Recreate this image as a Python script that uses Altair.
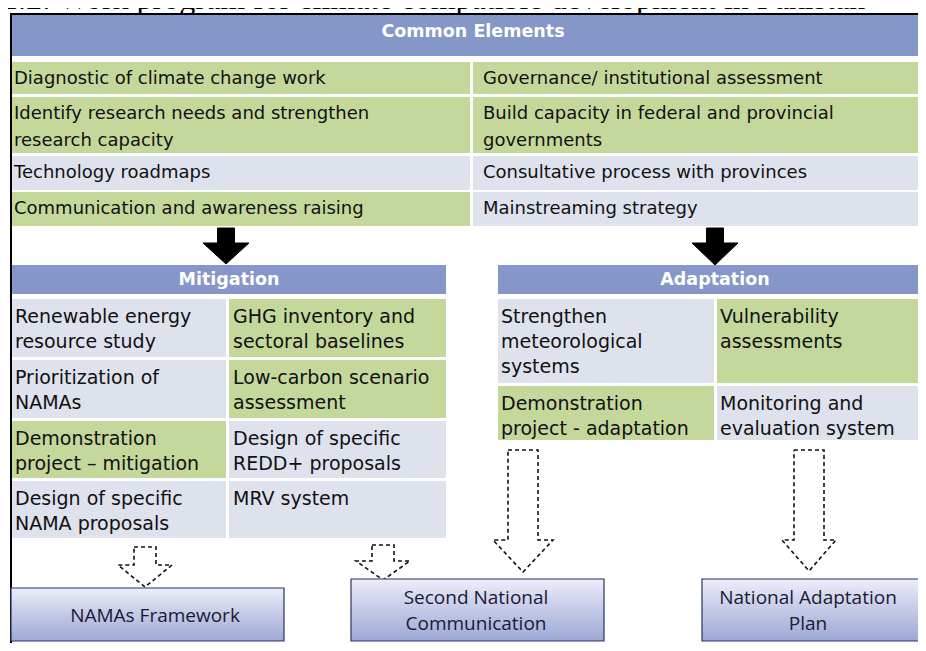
import altair as alt
import pandas as pd

# ---------------- content ----------------
title_text = "1.2: Work program for climate compatible development in Pakistan"

common_header = "Common Elements"
common_left = ["Diagnostic of climate change work",
               "Identify research needs and strengthen\nresearch capacity",
               "Technology roadmaps",
               "Communication and awareness raising"]
common_left_kind = ["green", "green", "grey", "green"]
common_right = ["Governance/ institutional assessment",
                "Build capacity in federal and provincial\ngovernments",
                "Consultative process with provinces",
                "Mainstreaming strategy"]
common_right_kind = ["green", "green", "grey", "grey"]

mit_header = "Mitigation"
mit_left = ["Renewable energy\nresource study", "Prioritization of\nNAMAs",
            "Demonstration\nproject \u2013 mitigation", "Design of specific\nNAMA proposals"]
mit_left_kind = ["grey", "grey", "green", "grey"]
mit_right = ["GHG inventory and\nsectoral baselines", "Low-carbon scenario\nassessment",
             "Design of specific\nREDD+ proposals", "MRV system"]
mit_right_kind = ["green", "green", "grey", "grey"]

ada_header = "Adaptation"
ada_left = ["Strengthen\nmeteorological\nsystems", "Demonstration\nproject - adaptation"]
ada_left_kind = ["grey", "green"]
ada_right = ["Vulnerability\nassessments", "Monitoring and\nevaluation system"]
ada_right_kind = ["green", "grey"]

outputs = ["NAMAs Framework", "Second National\nCommunication", "National Adaptation\nPlan"]

# ---------------- layout (pixel space of the picture) ----------------
W, H = 910, 635
X0, Y0 = 8, 8
xs = alt.Scale(domain=[X0, X0 + W], nice=False, zero=False)
ys = alt.Scale(domain=[Y0, Y0 + H], nice=False, zero=False, reverse=True)

COLORS = {"green": "#c5d89c", "grey": "#dde2ec", "head": "#8596c8"}

common_cols = [(11, 470, 14), (473, 930, 483)]
common_rows = [(62, 94), (97, 153), (156, 190), (192, 226)]
mit_cols = [(11, 226, 15), (229, 446, 233)]
mit_rows = [(299, 357), (360, 418), (421, 478), (481, 538)]
ada_cols = [(498, 714, 501), (717, 930, 720)]
ada_rows = [(299, 383), (386, 440)]

cells, lines_small, lines_big = [], [], []


def add_table(cols, rows, texts_l, kinds_l, texts_r, kinds_r, first, step, out):
    for ci, (texts, kinds) in enumerate([(texts_l, kinds_l), (texts_r, kinds_r)]):
        xa, xb, tx = cols[ci]
        for ri, (ya, yb) in enumerate(rows):
            cells.append(dict(x=xa, x2=xb, y=ya, y2=yb, fill=COLORS[kinds[ri]]))
            for li, ln in enumerate(texts[ri].split("\n")):
                out.append(dict(x=tx, y=ya + first + li * step, text=ln))


add_table(common_cols, common_rows, common_left, common_left_kind,
          common_right, common_right_kind, 17, 27, lines_small)
add_table(mit_cols, mit_rows, mit_left, mit_left_kind,
          mit_right, mit_right_kind, 18, 25, lines_big)
add_table(ada_cols, ada_rows, ada_left, ada_left_kind,
          ada_right, ada_right_kind, 18, 25, lines_big)

headers = pd.DataFrame([
    dict(x=12, x2=930, y=15, y2=56, tx=473, ty=32, text=common_header),
    dict(x=11, x2=446, y=265, y2=294, tx=229, ty=280, text=mit_header),
    dict(x=498, x2=930, y=265, y2=294, tx=715, ty=280, text=ada_header),
])
headers["fill"] = COLORS["head"]

box_geo = [(11, 284, 588, 641, 155), (351, 604, 579, 641, 476), (702, 930, 579, 641, 808)]
boxes, box_lines = [], []
for (xa, xb, ya, yb, cx), txt in zip(box_geo, outputs):
    boxes.append(dict(x=xa, x2=xb, y=ya, y2=yb))
    parts = txt.split("\n")
    mid = (ya + yb) / 2 + 1
    for li, ln in enumerate(parts):
        box_lines.append(dict(x=cx, y=mid + (li - (len(parts) - 1) / 2) * 26, text=ln))

# arrows: centre, top, head start, tip, shaft half width, head half width
black_arrows = [(226, 228, 243, 264, 8.5, 23), (715, 228, 243, 265, 8.5, 23)]
dashed_arrows = [(145, 547, 565, 587, 11, 27), (383, 545, 561, 580, 11, 27),
                 (523, 450, 540, 572, 15, 30), (809, 450, 540, 571, 15, 27)]


def arrow_rows(specs):
    rows = []
    for k, (cx, top, hy, tip, sw, hw) in enumerate(specs):
        pts = [(cx - sw, top), (cx + sw, top), (cx + sw, hy), (cx + hw, hy), (cx, tip),
               (cx - hw, hy), (cx - sw, hy), (cx - sw, top)]
        for i, (px, py) in enumerate(pts):
            rows.append(dict(a=k, o=i, x=px, y=py))
    return pd.DataFrame(rows)


border = pd.DataFrame([dict(x=10, x2=930, y=14, y2=14), dict(x=11, x2=11, y=14, y2=660)])

X = lambda f="x": alt.X(f + ":Q", scale=xs, axis=None)
Y = lambda f="y": alt.Y(f + ":Q", scale=ys, axis=None)

title = alt.Chart(pd.DataFrame([dict(x=2, y=9, text=title_text)])).mark_text(
    align="left", baseline="alphabetic", font="Liberation Serif", fontSize=32, color="#000"
).encode(x=X(), y=Y(), text="text:N")

cell_layer = alt.Chart(pd.DataFrame(cells)).mark_rect().encode(
    x=X(), x2="x2:Q", y=Y(), y2="y2:Q", fill=alt.Fill("fill:N", scale=None))

head_layer = alt.Chart(headers).mark_rect().encode(
    x=X(), x2="x2:Q", y=Y(), y2="y2:Q", fill=alt.Fill("fill:N", scale=None))

head_text = alt.Chart(headers).mark_text(
    align="center", baseline="middle", font="DejaVu Sans", fontWeight="bold",
    fontSize=17.5, color="white"
).encode(x=X("tx"), y=Y("ty"), text="text:N")

border_layer = alt.Chart(border).mark_rule(color="#000", strokeWidth=2).encode(
    x=X(), x2="x2:Q", y=Y(), y2="y2:Q")

small_text = alt.Chart(pd.DataFrame(lines_small)).mark_text(
    align="left", baseline="middle", font="DejaVu Sans", fontSize=18, color="#111"
).encode(x=X(), y=Y(), text="text:N")

big_text = alt.Chart(pd.DataFrame(lines_big)).mark_text(
    align="left", baseline="middle", font="DejaVu Sans", fontSize=19, color="#111"
).encode(x=X(), y=Y(), text="text:N")

black_arrow_layer = alt.Chart(arrow_rows(black_arrows)).mark_line(
    fill="#000", stroke="#000", strokeWidth=1
).encode(x=X(), y=Y(), detail="a:N", order="o:Q")

dashed_arrow_layer = alt.Chart(arrow_rows(dashed_arrows)).mark_line(
    fill="white", stroke="#111", strokeWidth=1.6, strokeDash=[4, 3]
).encode(x=X(), y=Y(), detail="a:N", order="o:Q")

grad = alt.Gradient(gradient="linear", x1=0, x2=0, y1=0, y2=1,
                    stops=[alt.GradientStop(color="#eceef8", offset=0),
                           alt.GradientStop(color="#c0c6e5", offset=0.55),
                           alt.GradientStop(color="#9da8d5", offset=1)])
box_layer = alt.Chart(pd.DataFrame(boxes)).mark_rect(
    fill=grad, stroke="#2c3366", strokeWidth=1.2
).encode(x=X(), x2="x2:Q", y=Y(), y2="y2:Q")

box_text = alt.Chart(pd.DataFrame(box_lines)).mark_text(
    align="center", baseline="middle", font="Open Sans", fontSize=19, color="#1a1a33"
).encode(x=X(), y=Y(), text="text:N")

chart = alt.layer(
    title, cell_layer, head_layer, head_text, border_layer, small_text, big_text,
    black_arrow_layer, dashed_arrow_layer, box_layer, box_text
).properties(width=W, height=H, padding=0, autosize="none", background="white"
).configure_view(stroke=None)

chart.save("out.html", embed_options={"renderer": "svg", "actions": False})
